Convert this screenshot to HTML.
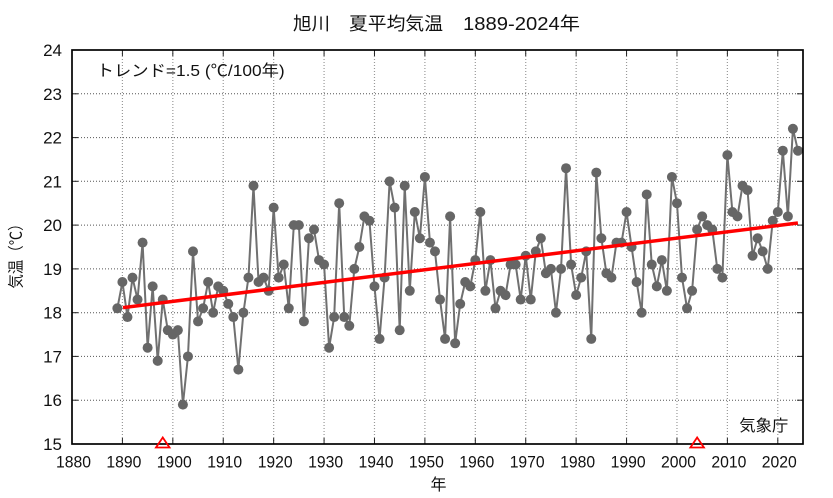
<!DOCTYPE html>
<html>
<head>
<meta charset="utf-8">
<style>
html,body{margin:0;padding:0;background:#fff;}
svg{display:block;}
text{font-family:"Liberation Sans","Noto Sans CJK JP",sans-serif;fill:#111;}
</style>
</head>
<body>
<svg width="833" height="498" viewBox="0 0 833 498" xmlns="http://www.w3.org/2000/svg">
<defs>
<marker id="dot" markerUnits="userSpaceOnUse" markerWidth="12" markerHeight="12" refX="6" refY="6" overflow="visible">
<circle cx="6" cy="6" r="5" fill="#666666"/>
</marker>
</defs>
<rect width="833" height="498" fill="#fff"/>

<!-- title -->
<text x="293" y="30" font-size="18" textLength="37" lengthAdjust="spacingAndGlyphs">旭川</text>
<text x="349" y="30" font-size="18" textLength="94" lengthAdjust="spacingAndGlyphs">夏平均気温</text>
<text x="463" y="30" font-size="18" textLength="117" lengthAdjust="spacingAndGlyphs">1889-2024年</text>

<!-- horizontal grid -->
<g stroke="#555" stroke-width="1" stroke-dasharray="1,2">
<line x1="72" y1="400.2" x2="803" y2="400.2"/>
<line x1="72" y1="356.4" x2="803" y2="356.4"/>
<line x1="72" y1="312.7" x2="803" y2="312.7"/>
<line x1="72" y1="268.9" x2="803" y2="268.9"/>
<line x1="72" y1="225.1" x2="803" y2="225.1"/>
<line x1="72" y1="181.3" x2="803" y2="181.3"/>
<line x1="72" y1="137.6" x2="803" y2="137.6"/>
<line x1="72" y1="93.8" x2="803" y2="93.8"/>
</g>
<!-- vertical grid -->
<g stroke="#999" stroke-width="1.2" stroke-dasharray="1,2">
<line x1="122.41" y1="50" x2="122.41" y2="444"/>
<line x1="172.83" y1="50" x2="172.83" y2="444"/>
<line x1="223.24" y1="50" x2="223.24" y2="444"/>
<line x1="273.66" y1="50" x2="273.66" y2="444"/>
<line x1="324.07" y1="50" x2="324.07" y2="444"/>
<line x1="374.48" y1="50" x2="374.48" y2="444"/>
<line x1="424.90" y1="50" x2="424.90" y2="444"/>
<line x1="475.31" y1="50" x2="475.31" y2="444"/>
<line x1="525.73" y1="50" x2="525.73" y2="444"/>
<line x1="576.14" y1="50" x2="576.14" y2="444"/>
<line x1="626.55" y1="50" x2="626.55" y2="444"/>
<line x1="676.97" y1="50" x2="676.97" y2="444"/>
<line x1="727.38" y1="50" x2="727.38" y2="444"/>
<line x1="777.80" y1="50" x2="777.80" y2="444"/>
</g>

<!-- ticks -->
<g stroke="#222" stroke-width="1">
<line x1="72" y1="400.2" x2="78" y2="400.2"/><line x1="797" y1="400.2" x2="803" y2="400.2"/>
<line x1="72" y1="356.4" x2="78" y2="356.4"/><line x1="797" y1="356.4" x2="803" y2="356.4"/>
<line x1="72" y1="312.7" x2="78" y2="312.7"/><line x1="797" y1="312.7" x2="803" y2="312.7"/>
<line x1="72" y1="268.9" x2="78" y2="268.9"/><line x1="797" y1="268.9" x2="803" y2="268.9"/>
<line x1="72" y1="225.1" x2="78" y2="225.1"/><line x1="797" y1="225.1" x2="803" y2="225.1"/>
<line x1="72" y1="181.3" x2="78" y2="181.3"/><line x1="797" y1="181.3" x2="803" y2="181.3"/>
<line x1="72" y1="137.6" x2="78" y2="137.6"/><line x1="797" y1="137.6" x2="803" y2="137.6"/>
<line x1="72" y1="93.8" x2="78" y2="93.8"/><line x1="797" y1="93.8" x2="803" y2="93.8"/>
<line x1="122.41" y1="444" x2="122.41" y2="438"/><line x1="122.41" y1="50" x2="122.41" y2="56"/>
<line x1="172.83" y1="444" x2="172.83" y2="438"/><line x1="172.83" y1="50" x2="172.83" y2="56"/>
<line x1="223.24" y1="444" x2="223.24" y2="438"/><line x1="223.24" y1="50" x2="223.24" y2="56"/>
<line x1="273.66" y1="444" x2="273.66" y2="438"/><line x1="273.66" y1="50" x2="273.66" y2="56"/>
<line x1="324.07" y1="444" x2="324.07" y2="438"/><line x1="324.07" y1="50" x2="324.07" y2="56"/>
<line x1="374.48" y1="444" x2="374.48" y2="438"/><line x1="374.48" y1="50" x2="374.48" y2="56"/>
<line x1="424.90" y1="444" x2="424.90" y2="438"/><line x1="424.90" y1="50" x2="424.90" y2="56"/>
<line x1="475.31" y1="444" x2="475.31" y2="438"/><line x1="475.31" y1="50" x2="475.31" y2="56"/>
<line x1="525.73" y1="444" x2="525.73" y2="438"/><line x1="525.73" y1="50" x2="525.73" y2="56"/>
<line x1="576.14" y1="444" x2="576.14" y2="438"/><line x1="576.14" y1="50" x2="576.14" y2="56"/>
<line x1="626.55" y1="444" x2="626.55" y2="438"/><line x1="626.55" y1="50" x2="626.55" y2="56"/>
<line x1="676.97" y1="444" x2="676.97" y2="438"/><line x1="676.97" y1="50" x2="676.97" y2="56"/>
<line x1="727.38" y1="444" x2="727.38" y2="438"/><line x1="727.38" y1="50" x2="727.38" y2="56"/>
<line x1="777.80" y1="444" x2="777.80" y2="438"/><line x1="777.80" y1="50" x2="777.80" y2="56"/>
</g>

<!-- y labels -->
<g font-size="17" text-anchor="end">
<text x="62" y="450">15</text>
<text x="62" y="406.2">16</text>
<text x="62" y="362.4">17</text>
<text x="62" y="318.7">18</text>
<text x="62" y="274.9">19</text>
<text x="62" y="231.1">20</text>
<text x="62" y="187.3">21</text>
<text x="62" y="143.6">22</text>
<text x="62" y="99.8">23</text>
<text x="62" y="56">24</text>
</g>
<!-- x labels -->
<g font-size="17" text-anchor="middle">
<text x="73.5" y="467.5" textLength="35" lengthAdjust="spacingAndGlyphs">1880</text>
<text x="123.9" y="467.5" textLength="35" lengthAdjust="spacingAndGlyphs">1890</text>
<text x="174.3" y="467.5" textLength="35" lengthAdjust="spacingAndGlyphs">1900</text>
<text x="224.7" y="467.5" textLength="35" lengthAdjust="spacingAndGlyphs">1910</text>
<text x="275.2" y="467.5" textLength="35" lengthAdjust="spacingAndGlyphs">1920</text>
<text x="325.6" y="467.5" textLength="35" lengthAdjust="spacingAndGlyphs">1930</text>
<text x="376.0" y="467.5" textLength="35" lengthAdjust="spacingAndGlyphs">1940</text>
<text x="426.4" y="467.5" textLength="35" lengthAdjust="spacingAndGlyphs">1950</text>
<text x="476.8" y="467.5" textLength="35" lengthAdjust="spacingAndGlyphs">1960</text>
<text x="527.2" y="467.5" textLength="35" lengthAdjust="spacingAndGlyphs">1970</text>
<text x="577.6" y="467.5" textLength="35" lengthAdjust="spacingAndGlyphs">1980</text>
<text x="628.1" y="467.5" textLength="35" lengthAdjust="spacingAndGlyphs">1990</text>
<text x="678.5" y="467.5" textLength="35" lengthAdjust="spacingAndGlyphs">2000</text>
<text x="728.9" y="467.5" textLength="35" lengthAdjust="spacingAndGlyphs">2010</text>
<text x="779.3" y="467.5" textLength="35" lengthAdjust="spacingAndGlyphs">2020</text>
</g>

<!-- axis titles -->
<text x="438.5" y="490" font-size="16" text-anchor="middle">年</text>
<text transform="translate(17,252.5) rotate(-90)" x="0" y="0" font-size="16" text-anchor="middle" dominant-baseline="central" textLength="72" lengthAdjust="spacingAndGlyphs">気温（℃）</text>

<!-- series -->
<polyline fill="none" stroke="#707070" stroke-width="2" stroke-linejoin="round" marker-start="url(#dot)" marker-mid="url(#dot)" marker-end="url(#dot)" points="117.37,308.29 122.41,282.02 127.46,317.04 132.50,277.64 137.54,299.53 142.58,242.62 147.62,347.69 152.66,286.40 157.70,360.82 162.75,299.53 167.79,330.18 172.83,334.56 177.87,330.18 182.91,404.60 187.95,356.44 192.99,251.38 198.04,321.42 203.08,308.29 208.12,282.02 213.16,312.67 218.20,286.40 223.24,290.78 228.28,303.91 233.32,317.04 238.37,369.58 243.41,312.67 248.45,277.64 253.49,185.71 258.53,282.02 263.57,277.64 268.61,290.78 273.66,207.60 278.70,277.64 283.74,264.51 288.78,308.29 293.82,225.11 298.86,225.11 303.90,321.42 308.95,238.24 313.99,229.49 319.03,260.13 324.07,264.51 329.11,347.69 334.15,317.04 339.19,203.22 344.24,317.04 349.28,325.80 354.32,268.89 359.36,247.00 364.40,216.36 369.44,220.73 374.48,286.40 379.53,338.93 384.57,277.64 389.61,181.33 394.65,207.60 399.69,330.18 404.73,185.71 409.77,290.78 414.82,211.98 419.86,238.24 424.90,176.96 429.94,242.62 434.98,251.38 440.02,299.53 445.06,338.93 450.11,216.36 455.15,343.31 460.19,303.91 465.23,282.02 470.27,286.40 475.31,260.13 480.35,211.98 485.39,290.78 490.44,260.13 495.48,308.29 500.52,290.78 505.56,295.15 510.60,264.51 515.64,264.51 520.68,299.53 525.73,255.75 530.77,299.53 535.81,251.38 540.85,238.24 545.89,273.27 550.93,268.89 555.97,312.67 561.02,268.89 566.06,168.20 571.10,264.51 576.14,295.15 581.18,277.64 586.22,251.38 591.26,338.93 596.31,172.58 601.35,238.24 606.39,273.27 611.43,277.64 616.47,242.62 621.51,242.62 626.55,211.98 631.60,247.00 636.64,282.02 641.68,312.67 646.72,194.47 651.76,264.51 656.80,286.40 661.84,260.13 666.89,290.78 671.93,176.96 676.97,203.22 682.01,277.64 687.05,308.29 692.09,290.78 697.13,229.49 702.18,216.36 707.22,225.11 712.26,229.49 717.30,268.89 722.34,277.64 727.38,155.07 732.42,211.98 737.46,216.36 742.51,185.71 747.55,190.09 752.59,255.75 757.63,238.24 762.67,251.38 767.71,268.89 772.75,220.73 777.80,211.98 782.84,150.69 787.88,216.36 792.92,128.80 797.96,150.69"/>

<!-- trend line -->
<line x1="123" y1="307.6" x2="797.9" y2="223.0" stroke="#ff0000" stroke-width="3.5"/>

<!-- frame -->
<rect x="72" y="50" width="731" height="394" fill="none" stroke="#000" stroke-width="1.7"/>

<!-- triangles -->
<polygon points="162.75,437.5 156,447.5 169.5,447.5" fill="none" stroke="#ff0000" stroke-width="1.8"/>
<polygon points="697.13,437.5 690.4,447.5 703.9,447.5" fill="none" stroke="#ff0000" stroke-width="1.8"/>

<!-- annotations -->
<text x="96.7" y="76" font-size="16" textLength="188" lengthAdjust="spacingAndGlyphs">トレンド=1.5 (℃/100年)</text>
<text x="739.3" y="431" font-size="16" textLength="49" lengthAdjust="spacingAndGlyphs">気象庁</text>
</svg>
</body>
</html>
